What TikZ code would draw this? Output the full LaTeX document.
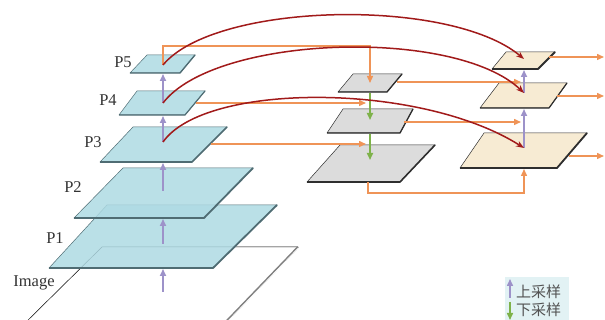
\documentclass[tikz,border=0pt]{standalone}
\usepackage{fontspec}
\setmainfont{Liberation Serif}
\newfontfamily\cjk{Noto Sans CJK SC}
\usetikzlibrary{arrows.meta}
\definecolor{bluef}{HTML}{AEDAE3}
\definecolor{blueedge}{HTML}{4F6C73}
\definecolor{greyf}{HTML}{DCDCDC}
\definecolor{beigef}{HTML}{F7EBD3}
\definecolor{darkedge}{HTML}{2E2E2E}
\definecolor{orangel}{HTML}{EF9457}
\definecolor{redl}{HTML}{A11A1A}
\definecolor{purplel}{HTML}{9D92C9}
\definecolor{greenl}{HTML}{7EB24A}
\definecolor{legbg}{HTML}{E2F2F4}
\definecolor{txt}{HTML}{333333}
\newcommand{\myslab}[7]{%
  \fill[#1] #3 -- #4 -- #5 -- #6 -- cycle;
  \draw[#2, line width=0.5pt] #3 -- #4 -- #5 -- #6 -- cycle;
  \draw[#2, line width=#7, line join=round] #3 -- #4 -- #5;
}
\begin{document}
\begin{tikzpicture}[x=1pt,y=-1pt,
  lab/.style={font=\fontsize{16.5}{17}\selectfont, text=txt},
  oarrow/.style={draw=orangel, line width=1.4pt, -{Triangle[length=7pt,width=6pt]}},
  oline/.style={draw=orangel, line width=1.4pt},
  rarrow/.style={draw=redl, line width=1.5pt, -{Stealth[length=8pt,width=6pt]}},
  parrow/.style={draw=purplel, line width=1.6pt, -{Triangle[length=7pt,width=6pt]}},
  garrow/.style={draw=greenl, line width=1.6pt, -{Triangle[length=7pt,width=6pt]}},
  bluep/.style={fill=bluef, fill opacity=0.85},
  greyp/.style={fill=greyf},
  beigep/.style={fill=beigef}]
\useasboundingbox (0,0) rectangle (605,320);
\clip (0,0) rectangle (605,320);

% ---------- left stack ----------
% Image
\fill[white] (102,247) -- (298,247) -- (218,330) -- (18,330) -- cycle;
\draw[black, line width=0.5pt] (18,330) -- (102,247) -- (298,247);
\draw[gray, line width=2pt] (298,247) -- (218,330);
\draw[white, line width=0.7pt] (298.3,248) -- (218.3,331);
% P1
\myslab{bluep}{blueedge}{(49,268)}{(213,268)}{(277,205)}{(107,205)}{1.8pt}
% P2
\myslab{bluep}{blueedge}{(74,218)}{(204,218)}{(253,168)}{(123,168)}{1.8pt}
% P3
\myslab{bluep}{blueedge}{(100,162)}{(192,162)}{(227,127)}{(133,127)}{1.6pt}
% P4
\myslab{bluep}{blueedge}{(119,115)}{(185,115)}{(205,91)}{(137,91)}{1.2pt}
% P5
\myslab{bluep}{blueedge}{(130,73)}{(180,73)}{(195,55)}{(147,55)}{1.4pt}

\node[lab] (limg) at (34,283) {Image};
\node[lab] (lp1) at (55,238) {P1};
\node[lab] (lp2) at (73,187) {P2};
\node[lab] (lp3) at (93,142) {P3};
\node[lab] (lp4) at (108,100) {P4};
\node[lab] (lp5) at (123,62) {P5};

\coordinate (imgc) at (163,292);
\coordinate (p1b) at (163,269);
\coordinate (p1c) at (163,244);
\coordinate (p2b) at (163,219);
\coordinate (p2c) at (163,191);
\coordinate (p3b) at (163,163);
\coordinate (p3c) at (163,142);
\coordinate (p4b) at (163,116);
\coordinate (p4c) at (163,103);
\coordinate (p5b) at (163,74);
\coordinate (p5c) at (163,65);

\draw[parrow] (imgc) -- (p1b);
\draw[parrow] (p1c) -- (p2b);
\draw[parrow] (p2c) -- (p3b);
\draw[parrow] (p3c) -- (p4b);
\draw[parrow] (p4c) -- (p5b);

% ---------- middle stack ----------
\myslab{greyp}{darkedge}{(338,92)}{(387,92)}{(402,74)}{(353,74)}{1.3pt}
\myslab{greyp}{darkedge}{(327,133)}{(400,133)}{(413,109)}{(343,109)}{1.3pt}
\myslab{greyp}{darkedge}{(307,182)}{(400,182)}{(435,145)}{(340,145)}{1.6pt}

\coordinate (g1t) at (370,46);
\coordinate (g1c) at (370,83);
\coordinate (g1b) at (370,93);
\coordinate (g2c) at (370,120);
\coordinate (g2b) at (370,134);
\coordinate (g3c) at (370,160);

\draw[garrow] (g1b) -- (g2c);
\draw[garrow] (g2b) -- (g3c);

% orange from left to middle
\coordinate (p5up) at (163,46);
\draw[oarrow] (p5c) -- (p5up) -- (g1t) -- (g1c);
\coordinate (p4r) at (196,103);
\coordinate (g2in) at (366,103);
\draw[oarrow] (p4r) -- (g2in);
\coordinate (p3r) at (211,144);
\coordinate (g3in) at (366,144);
\draw[oarrow] (p3r) -- (g3in);

% ---------- right stack ----------
\myslab{beigep}{darkedge}{(460,168)}{(557,168)}{(587,133)}{(484,133)}{1.8pt}
\myslab{beigep}{darkedge}{(480,108)}{(549,108)}{(567,83)}{(499,83)}{1.2pt}
\myslab{beigep}{darkedge}{(492,69)}{(538,69)}{(555,52)}{(506,52)}{1.8pt}

\coordinate (r1c) at (524,59);
\coordinate (r1b) at (524,70);
\coordinate (r2c) at (524,93);
\coordinate (r2b) at (524,109);
\coordinate (r3c) at (524,148);
\coordinate (r3b) at (524,169);

\draw[parrow] (r3c) -- (r2b);
\draw[parrow] (r2c) -- (r1b);

% orange middle to right
\coordinate (g1r) at (397,82);
\coordinate (r2in) at (521,82);
\draw[oarrow] (g1r) -- (r2in);
\coordinate (g2r) at (404,122);
\coordinate (r3in) at (521,122);
\draw[oarrow] (g2r) -- (r3in);
\coordinate (g3bot) at (368,182);
\coordinate (g3d) at (368,193);
\coordinate (r3d) at (524,193);
\draw[oarrow] (g3bot) -- (g3d) -- (r3d) -- (r3b);

% outputs
\coordinate (r1r) at (549,57);
\coordinate (o1) at (604,57);
\coordinate (r2r) at (557,96);
\coordinate (o2) at (604,96);
\coordinate (r3r) at (569,156);
\coordinate (o3) at (604,156);
\draw[oarrow] (r1r) -- (o1);
\draw[oarrow] (r2r) -- (o2);
\draw[oarrow] (r3r) -- (o3);

% red lateral connections
\draw[rarrow] (p5c) .. controls (215,2) and (450,-3) .. (r1c);
\draw[rarrow] (p4c) .. controls (215,35) and (455,27) .. (r2c);
\draw[rarrow] (p3c) .. controls (205,82) and (420,82) .. (r3c);

% ---------- legend ----------
\node[fill=legbg, minimum width=64pt, minimum height=46pt, anchor=north west, inner sep=0pt] (leg) at (505,277) {};
\coordinate (lu1) at (510,298);
\coordinate (lu2) at (510,279);
\coordinate (ld1) at (510,302);
\coordinate (ld2) at (510,320);
\draw[parrow, line width=1.5pt] (lu1) -- (lu2);
\draw[garrow, line width=1.5pt] (ld1) -- (ld2);
\node[font=\cjk\fontsize{15}{15}\selectfont, text=txt!85, anchor=west, inner sep=0pt] (tup) at (516,292) {上采样};
\node[font=\cjk\fontsize{15}{15}\selectfont, text=txt!85, anchor=west, inner sep=0pt] (tdn) at (516,310) {下采样};
\end{tikzpicture}
\end{document}
